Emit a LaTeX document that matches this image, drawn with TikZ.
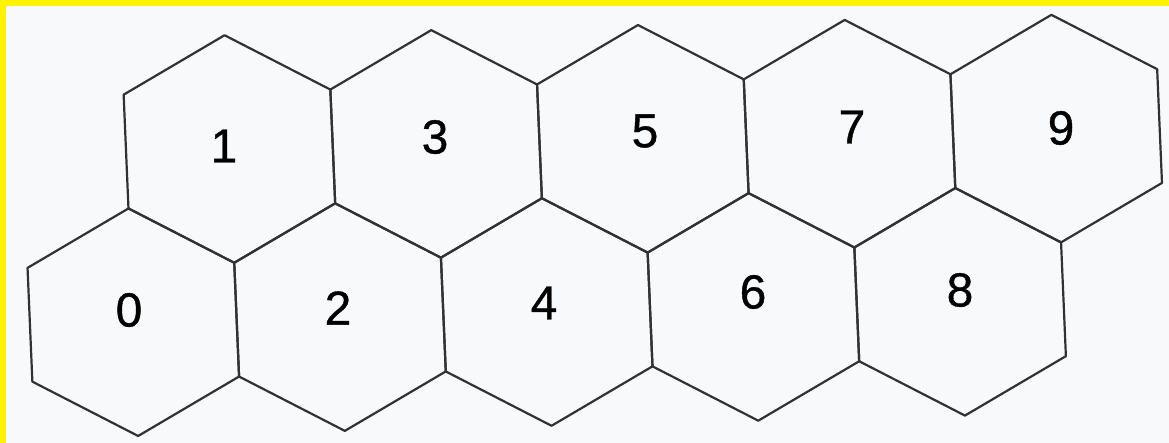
\documentclass[tikz,border=0pt]{standalone}
\usepackage{fontspec}
\setmainfont{Liberation Sans}
\newfontfamily\digitfont[FakeBold=0.8]{Liberation Sans}
\usepackage{tikz}

\definecolor{paper}{RGB}{248,249,251}
\definecolor{ink}{RGB}{50,50,50}

\begin{document}
\begin{tikzpicture}[x=0.25mm,y=-0.25mm,
    cell/.style={draw=ink,line width=0.55mm,line join=round},
    digit/.style={font=\digitfont\fontsize{34}{34}\selectfont,text=black,inner sep=0pt}]
  % page: scan with yellow edge at top and left
  \fill[yellow] (0,0) rectangle (1169,443);
  \fill[paper] (6,6) rectangle (1169,443);
  \useasboundingbox (0,0) rectangle (1169,443);
  % honeycomb strip, lattice steps along the rows and up to the next row
  \begin{scope}[shift={(33.325mm,-80.55mm)},
      x={(51.675mm,1.275mm)},y={(24.025mm,43.3mm)}]
    \foreach \i in {0,...,4}
      \foreach \j in {0,1}
        \draw[cell] (\i+1/3,\j+1/3) -- (\i-1/3,\j+2/3) -- (\i-2/3,\j+1/3)
          -- (\i-1/3,\j-1/3) -- (\i+1/3,\j-2/3) -- (\i+2/3,\j-1/3) -- cycle;
  \end{scope}
  % numbers
  \foreach \n/\x/\y in {0/129/310, 1/224/146, 2/338/308, 3/435/137,
      4/544/303, 5/645/131, 6/753/292, 7/852/127, 8/960/290, 9/1061/128}
    \node[digit] (n\n) at (\x,\y) {\n};
\end{tikzpicture}
\end{document}
